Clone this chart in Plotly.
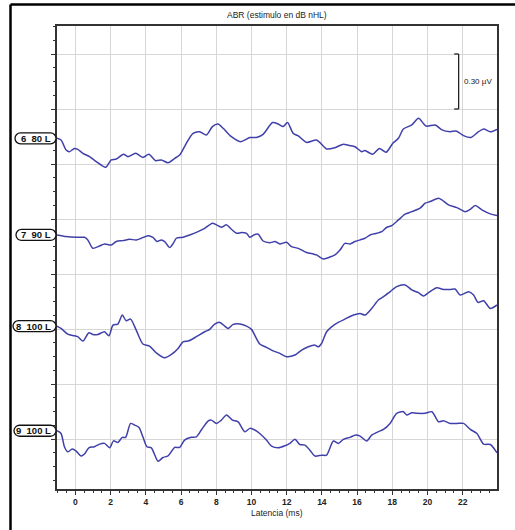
import numpy as np
import plotly.graph_objects as go

# ---------------- data ----------------
labels = ["6\u00a0\u00a080 L", "7\u00a0\u00a090 L", "8\u00a0\u00a0100 L", "9\u00a0\u00a0100 L"]
offsets_uv = [1.640, 1.113, 0.616, 0.045]   # baseline of each trace (µV)

t1 = [-1.05, -0.82, -0.53, -0.34, -0.06, 0.13, 0.42, 0.80, 1.18, 1.71, 2.03, 2.32, 2.73, 2.98, 3.42, 3.83,
      4.17, 4.55, 4.88, 5.26, 5.64, 5.92, 6.30, 6.68, 7.06, 7.44, 7.78, 8.10, 8.39, 8.86, 9.37, 9.91,
      10.28, 10.66, 11.20, 11.52, 11.80, 12.05, 12.37, 12.66, 13.13, 13.70, 14.27, 14.74, 15.18, 15.60,
      15.88, 16.26, 16.45, 16.89, 17.27, 17.65, 18.03, 18.35, 18.63, 19.11, 19.49, 19.92, 20.44, 20.82,
      21.29, 21.63, 22.05, 22.47, 22.90, 23.19, 23.57, 23.95]
v1 = [0, -0.009, -0.064, -0.073, -0.055, -0.060, -0.082, -0.100, -0.127, -0.158, -0.118, -0.113, -0.087,
      -0.100, -0.082, -0.104, -0.087, -0.122, -0.118, -0.133, -0.109, -0.091, -0.027, 0.027, 0.036, 0.018,
      0.064, 0.078, 0.055, 0.009, -0.018, 0.004, 0.005, 0.022, 0.086, 0.078, 0.064, 0.086, 0.027, 0.013,
      -0.022, -0.009, -0.058, -0.051, -0.033, -0.040, -0.046, -0.073, -0.067, -0.087, -0.055, -0.076,
      -0.027, 0, 0.051, 0.073, 0.109, 0.067, 0.073, 0.046, 0.036, 0.040, 0.015, 0.005, 0.036, 0.051,
      0.036, 0.049]

t2 = [-1.05, -0.53, 0.04, 0.51, 0.70, 0.99, 1.37, 1.65, 2.03, 2.32, 2.69, 3.07, 3.45, 3.74, 4.12, 4.40,
      4.63, 4.88, 5.07, 5.35, 5.58, 5.73, 6.11, 6.49, 6.96, 7.34, 7.78, 8.01, 8.29, 8.58, 8.86, 9.15,
      9.43, 9.72, 9.91, 10.13, 10.38, 10.66, 11.04, 11.33, 11.61, 11.99, 12.28, 12.66, 13.13, 13.51,
      13.70, 14.08, 14.36, 14.74, 15.03, 15.31, 15.60, 15.88, 16.17, 16.45, 16.74, 17.12, 17.40, 17.69,
      17.97, 18.35, 18.73, 19.11, 19.58, 19.87, 20.15, 20.63, 20.82, 21.20, 21.67, 22.14, 22.43, 22.71,
      23.09, 23.57, 23.95]
v2 = [0, -0.009, -0.013, -0.013, -0.027, -0.073, -0.060, -0.049, -0.055, -0.036, -0.031, -0.024, -0.027,
      -0.018, -0.004, -0.013, -0.036, -0.027, -0.036, -0.069, -0.042, -0.018, -0.013, 0, 0.018, 0.036,
      0.064, 0.055, 0.042, 0.055, 0.031, 0.009, 0.013, 0.009, -0.013, 0, 0.004, -0.033, -0.042, -0.036,
      -0.049, -0.040, -0.064, -0.073, -0.096, -0.104, -0.109, -0.131, -0.124, -0.109, -0.082, -0.046,
      -0.049, -0.036, -0.027, -0.018, 0, 0.009, 0.018, 0.042, 0.051, 0.082, 0.113, 0.127, 0.146, 0.173,
      0.182, 0.200, 0.191, 0.164, 0.149, 0.127, 0.140, 0.160, 0.137, 0.115, 0.106]

t3 = [-1.05, -0.82, -0.44, -0.06, 0.13, 0.42, 0.76, 0.99, 1.27, 1.65, 1.90, 2.13, 2.41, 2.66, 2.88, 3.13,
      3.45, 3.83, 4.21, 4.59, 5.07, 5.45, 5.83, 6.11, 6.45, 6.87, 7.34, 7.63, 7.91, 8.20, 8.48, 8.67,
      8.96, 9.34, 9.72, 10.00, 10.47, 10.85, 11.23, 11.61, 11.99, 12.47, 12.85, 13.23, 13.61, 13.80,
      13.98, 14.27, 14.55, 14.93, 15.31, 15.79, 16.17, 16.45, 16.83, 17.21, 17.50, 17.87, 18.25, 18.73,
      19.11, 19.49, 19.77, 20.06, 20.53, 20.91, 21.29, 21.57, 21.86, 22.33, 22.62, 22.87, 23.19, 23.57,
      23.95]
v3 = [0, -0.013, -0.044, -0.053, -0.058, -0.082, -0.036, -0.046, -0.046, -0.031, -0.053, 0.005, 0.011,
      0.060, 0.029, 0.038, -0.022, -0.098, -0.109, -0.146, -0.173, -0.155, -0.122, -0.086, -0.080, -0.058,
      -0.031, -0.018, 0.011, 0.020, 0, -0.013, 0.009, 0.011, 0, -0.018, -0.098, -0.116, -0.135, -0.149,
      -0.167, -0.158, -0.131, -0.113, -0.104, -0.113, -0.095, -0.031, -0.004, 0.020, 0.038, 0.060, 0.069,
      0.060, 0.096, 0.142, 0.160, 0.187, 0.215, 0.224, 0.197, 0.182, 0.164, 0.182, 0.209, 0.200, 0.200,
      0.202, 0.169, 0.187, 0.169, 0.129, 0.138, 0.096, 0.115]

t4 = [-1.05, -0.82, -0.63, -0.44, -0.19, 0.04, 0.32, 0.51, 0.76, 1.08, 1.37, 1.65, 1.94, 2.16, 2.41, 2.66,
      2.85, 3.13, 3.36, 3.61, 3.83, 4.06, 4.31, 4.69, 4.97, 5.26, 5.64, 5.92, 6.20, 6.58, 6.87, 7.15,
      7.53, 7.72, 8.01, 8.29, 8.58, 8.92, 9.24, 9.62, 9.91, 10.19, 10.47, 10.85, 11.14, 11.52, 11.90,
      12.18, 12.47, 12.75, 13.04, 13.32, 13.61, 13.98, 14.27, 14.65, 14.93, 15.22, 15.60, 15.88, 16.17,
      16.55, 16.83, 17.21, 17.50, 17.87, 18.25, 18.63, 18.82, 19.11, 19.39, 19.87, 20.25, 20.63, 20.91,
      21.29, 21.67, 22.05, 22.43, 22.81, 23.19, 23.57, 23.95]
v4 = [0, -0.015, -0.087, -0.115, -0.100, -0.111, -0.138, -0.127, -0.093, -0.087, -0.073, -0.069, -0.093,
      -0.055, -0.064, -0.036, -0.036, 0.040, 0.031, 0.018, -0.033, -0.087, -0.093, -0.166, -0.146, -0.137,
      -0.091, -0.091, -0.051, -0.036, -0.033, 0.004, 0.053, 0.058, 0.040, 0.058, 0.086, 0.058, 0.049,
      -0.005, 0.013, 0.004, -0.015, -0.051, -0.084, -0.093, -0.082, -0.069, -0.046, -0.075, -0.078,
      -0.106, -0.138, -0.133, -0.133, -0.056, -0.069, -0.047, -0.036, -0.024, -0.029, -0.056, -0.024,
      -0.005, 0.007, 0.040, 0.095, 0.104, 0.086, 0.098, 0.095, 0.095, 0.104, 0.049, 0.055, 0.040, 0.040,
      0.040, 0.007, -0.015, -0.073, -0.075, -0.120]

times = [t1, t2, t3, t4]
values = [v1, v2, v3, v4]
label_widths_px = [41, 40, 43, 42]

x_ticks = list(range(0, 23, 2))
scale_bar_uv = [1.8, 2.1]
scale_bar_t = 21.77
scale_text = "0.30 \u00b5V"

# ---------------- figure ----------------
FONT = "Liberation Sans, Arial, sans-serif"
LINE_COLOR = "#4040aa"

fig = go.Figure()
for t, v, off in zip(times, values, offsets_uv):
    fig.add_trace(go.Scatter(x=t, y=np.array(v) + off, mode="lines",
                             line=dict(color=LINE_COLOR, width=1.5, shape="spline", smoothing=0.7),
                             hoverinfo="skip", showlegend=False))

shapes = []
annotations = []

# label capsules
for lab, off, w in zip(labels, offsets_uv, label_widths_px):
    r = 5.5
    x1 = -1.0
    x0 = x1 - w
    k = 0.552 * r
    path = (f"M {x0 + r},{r} L {x1 - r},{r} "
            f"C {x1 - r + k},{r} {x1},{k} {x1},0 "
            f"C {x1},{-k} {x1 - r + k},{-r} {x1 - r},{-r} "
            f"L {x0 + r},{-r} "
            f"C {x0 + r - k},{-r} {x0},{-k} {x0},0 "
            f"C {x0},{k} {x0 + r - k},{r} {x0 + r},{r} Z")
    shapes.append(dict(type="path", xref="paper", yref="y", xsizemode="pixel", ysizemode="pixel",
                       xanchor=0, yanchor=off, path=path, line=dict(color="#111", width=1.3),
                       fillcolor="white", layer="above"))
    annotations.append(dict(x=-4.5 / 440, y=off, xref="paper", yref="y", text=f"<b>{lab}</b>",
                            showarrow=False, xanchor="right", yanchor="middle",
                            font=dict(family=FONT, size=9.5, color="#111")))

# scale bar
shapes.append(dict(type="line", xref="x", yref="y", x0=scale_bar_t, x1=scale_bar_t,
                   y0=scale_bar_uv[0], y1=scale_bar_uv[1], line=dict(color="#222", width=1.3)))
for yy in scale_bar_uv:
    shapes.append(dict(type="line", xref="x", yref="y", x0=scale_bar_t - 0.25, x1=scale_bar_t,
                       y0=yy, y1=yy, line=dict(color="#222", width=1.3)))
annotations.append(dict(x=scale_bar_t + 0.2, y=sum(scale_bar_uv) / 2, xref="x", yref="y",
                        text=scale_text, showarrow=False, xanchor="left", yanchor="middle",
                        font=dict(family=FONT, size=8, color="#222")))

# outer frame (top and left, thick black)
PW, PH = 440.0, 463.0
fx = (10.5 - 57) / PW
fy = (489 - 4.5) / PH
shapes.append(dict(type="line", xref="paper", yref="paper", x0=fx, x1=fx, y0=-0.2, y1=fy,
                   line=dict(color="black", width=2.5)))
shapes.append(dict(type="line", xref="paper", yref="paper", x0=fx, x1=1.2, y0=fy, y1=fy,
                   line=dict(color="black", width=2.5)))

# title and axis title
annotations.append(dict(x=0.5, y=(489 - 15) / PH, xref="paper", yref="paper",
                        text="ABR (estimulo en dB nHL)", showarrow=False, yanchor="middle",
                        font=dict(family=FONT, size=8.5, color="#222")))
annotations.append(dict(x=0.5, y=(489 - 513) / PH, xref="paper", yref="paper",
                        text="Latencia (ms)", showarrow=False, yanchor="middle",
                        font=dict(family=FONT, size=8.5, color="#222")))

fig.update_layout(
    width=515, height=530,
    margin=dict(l=57, r=18, t=26, b=41, pad=0),
    paper_bgcolor="white", plot_bgcolor="white",
    shapes=shapes, annotations=annotations,
    font=dict(family=FONT),
    xaxis=dict(range=[-1.05, 23.95], tickvals=x_ticks,
               ticktext=[f"<b>{v}</b>" for v in x_ticks],
               showgrid=True, gridcolor="#d6d6d6", gridwidth=1, zeroline=False,
               showline=True, linecolor="#333", linewidth=2, mirror=True,
               ticks="outside", ticklen=4, tickcolor="#333", tickwidth=1,
               tickfont=dict(family=FONT, size=8.5, color="#222"),
               minor=dict(dtick=0.5, tick0=0, ticks="outside", ticklen=2, tickcolor="#333",
                          showgrid=False)),
    yaxis=dict(range=[-0.2727, 2.2527], tick0=0, dtick=0.3, showticklabels=False,
               showgrid=True, gridcolor="#d6d6d6", gridwidth=1, zeroline=False,
               showline=True, linecolor="#333", linewidth=2, mirror=True,
               ticks="outside", ticklen=4, tickcolor="#333", tickwidth=1,
               minor=dict(dtick=0.075, tick0=0, ticks="outside", ticklen=2.5, tickcolor="#333",
                          showgrid=False)),
)

fig.write_html("out.html")
